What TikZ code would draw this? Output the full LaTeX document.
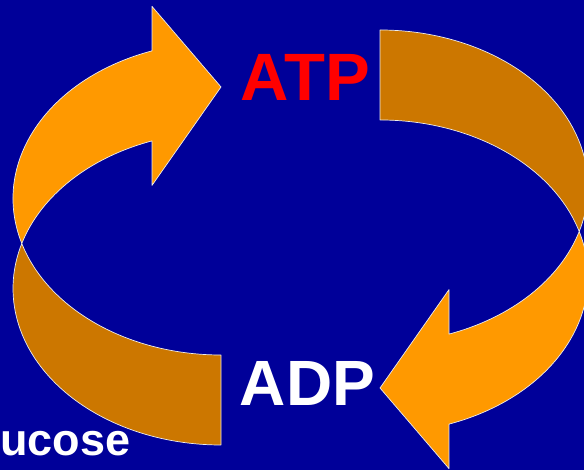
\documentclass[tikz,border=0pt]{standalone}
\usepackage{fontspec}
\setmainfont{Liberation Sans}
\definecolor{slidebg}{HTML}{000099}
\definecolor{lightorange}{HTML}{FF9900}
\definecolor{darkorange}{HTML}{CC7700}
\tikzset{
  front/.style={fill=lightorange, draw=white!85!gray, line width=0.7pt, line join=round},
  back/.style={fill=darkorange, draw=white!85!gray, line width=0.7pt, line join=round},
  word/.style={inner sep=0pt, font=\fontsize{64}{70}\selectfont\bfseries}
}
\begin{document}
\begin{tikzpicture}[x=1pt,y=1pt]
\useasboundingbox (0,0) rectangle (584,470);
\fill[slidebg] (0,0) rectangle (584,470);
\clip (0,0) rectangle (584,470);

\foreach \r in {0,180}{
\begin{scope}[rotate around={\r:(300.5,232.5)}]
\path[back] (221,25) arc[start angle=270, end angle=163.29, x radius=208, y radius=156.5]
  arc[start angle=196.71, end angle=270, x radius=208, y radius=156.5] -- cycle;
\path[front] (21.8,226.5) arc[start angle=196.71, end angle=109.37, x radius=208, y radius=156.5]
  -- (152,463.6) -- (221,383) -- (152,284.6) -- (152,329.1)
  arc[start angle=109.37, end angle=163.29, x radius=208, y radius=156.5] -- cycle;
\end{scope}
}

\node[word, text=red, anchor=base, font=\fontsize{67}{72}\selectfont\bfseries] (atp) at (305.5,369.5) {ATP};
\node[word, text=white, anchor=base] (adp) at (307.5,64) {ADP};
\node[word, text=white, anchor=base west, font=\fontsize{45}{50}\selectfont\bfseries] (glc) at (0,14) {ucose};
\end{tikzpicture}
\end{document}
